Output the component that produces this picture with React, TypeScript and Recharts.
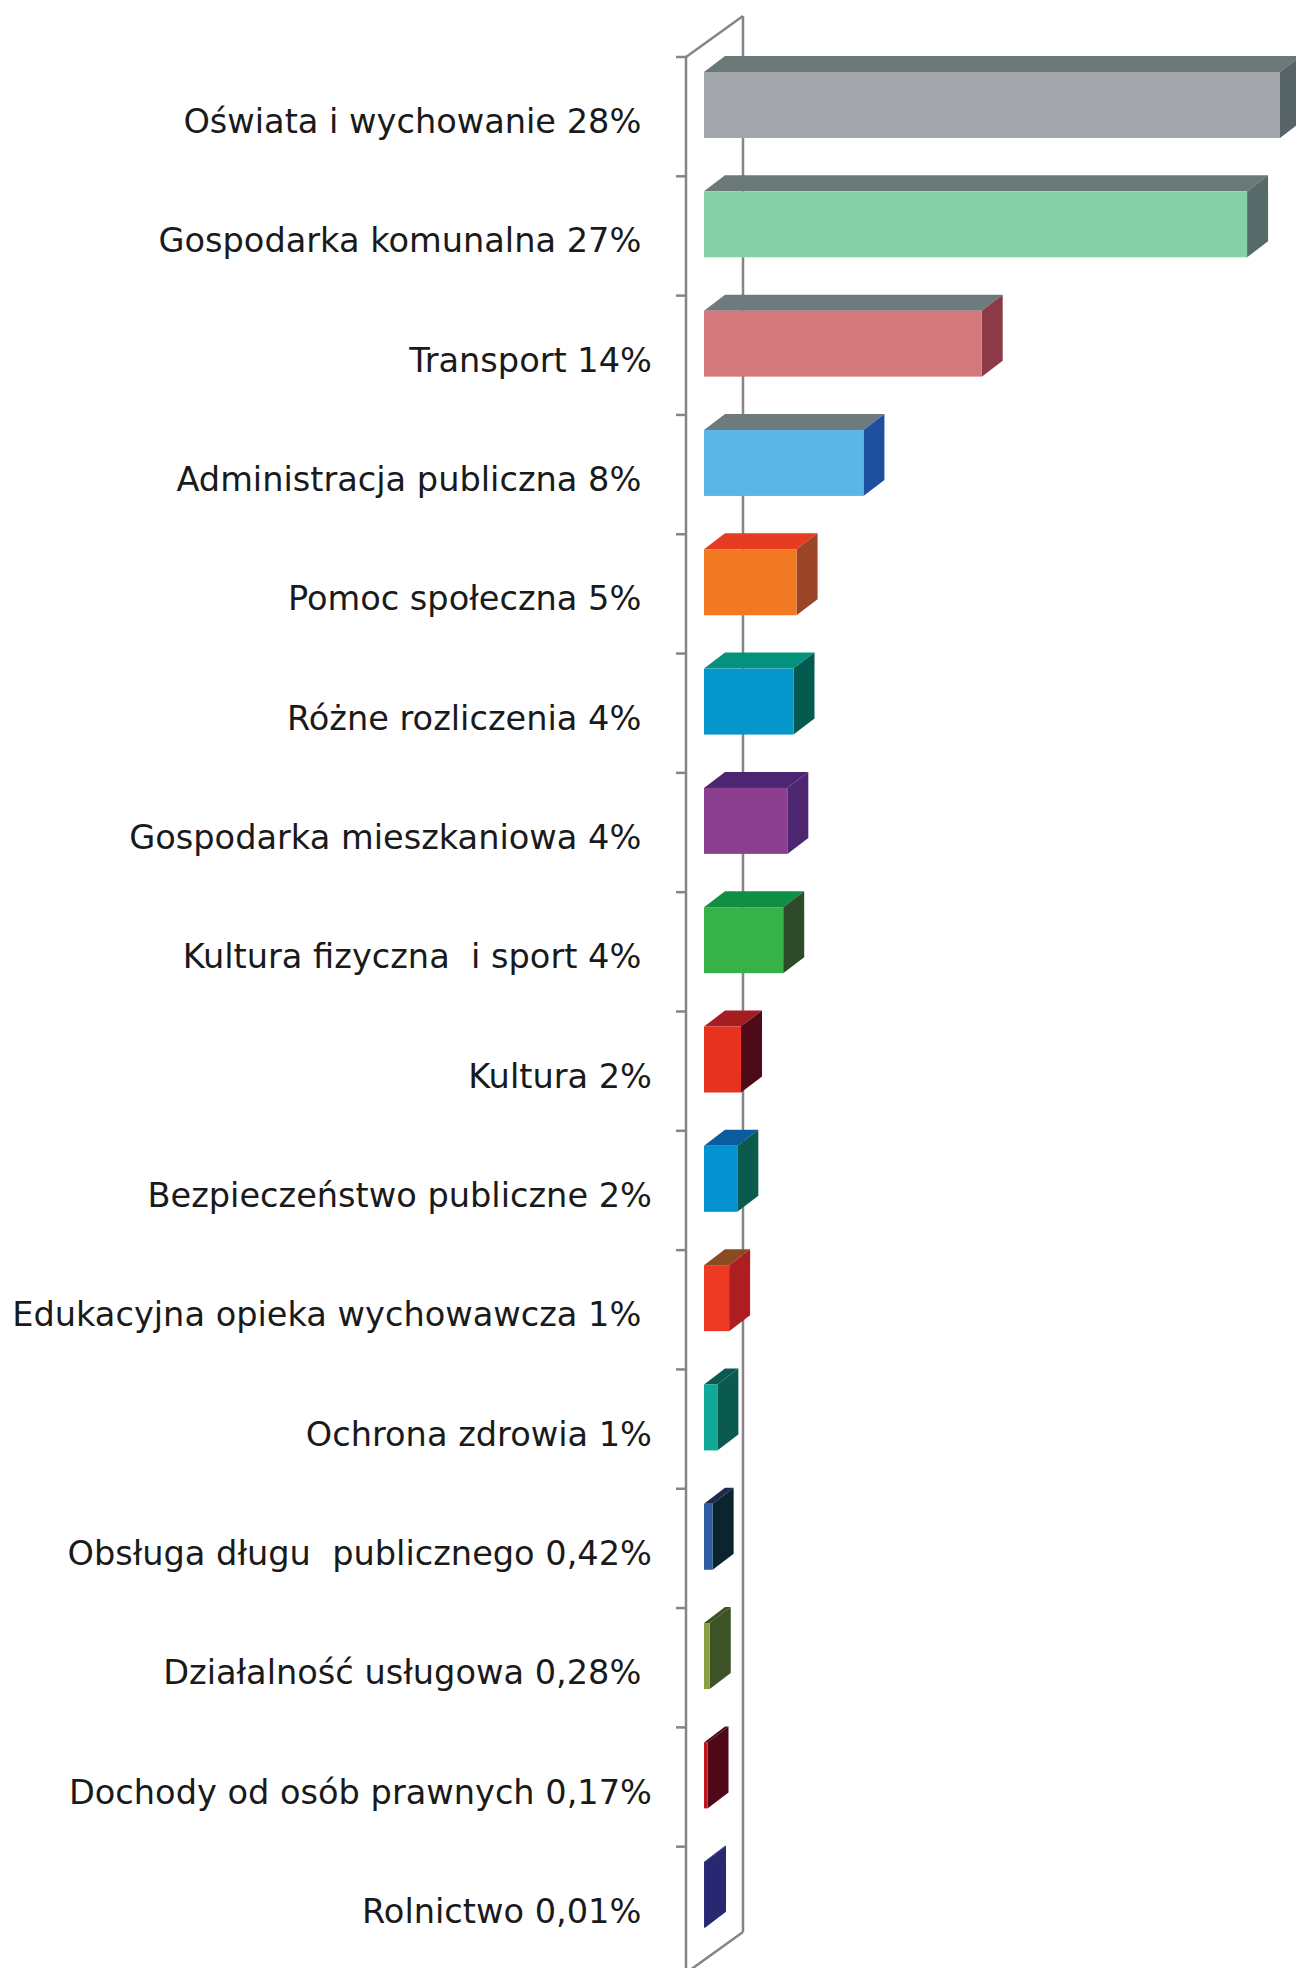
import React from 'react';
import { BarChart, Bar, XAxis, YAxis, Customized } from 'recharts';

// categories top -> bottom, labels as printed on the chart
const categories = [
  'Oświata i wychowanie 28%\u00a0',
  'Gospodarka komunalna 27%\u00a0',
  'Transport 14%',
  'Administracja publiczna 8%\u00a0',
  'Pomoc społeczna 5%\u00a0',
  'Różne rozliczenia 4%\u00a0',
  'Gospodarka mieszkaniowa 4%\u00a0',
  'Kultura fizyczna  i sport 4%\u00a0',
  'Kultura 2%',
  'Bezpieczeństwo publiczne 2%',
  'Edukacyjna opieka wychowawcza 1%\u00a0',
  'Ochrona zdrowia 1%',
  'Obsługa długu  publicznego 0,42%',
  'Działalność usługowa 0,28%\u00a0',
  'Dochody od osób prawnych 0,17%',
  'Rolnictwo 0,01%\u00a0',
];

// share of spending, %
const shares = [28.0, 26.4, 13.5, 7.75, 4.5, 4.35, 4.05, 3.85, 1.8, 1.62, 1.22, 0.65, 0.42, 0.28, 0.17, 0.05];

const frontColors = [
  '#a2a5a9', '#87cfa7', '#d4787c', '#5bb5e5', '#f27822', '#0597cb', '#8d3f8f', '#37b24a',
  '#e6321f', '#0592d0', '#ee3a22', '#12a898', '#2d5ca0', '#8aa040', '#c2141f', '#2e2e80',
];
const topColors = [
  '#6a7878', '#6a7878', '#6e7b7d', '#6e7b7e', '#e63c22', '#03937d', '#4d2672', '#0f8f44',
  '#a31d22', '#0b5c9e', '#8b4b22', '#0b5a50', '#1e2a4a', '#3c5322', '#4e0818', '#24246a',
];
const sideColors = [
  '#566468', '#566a6a', '#8c3a48', '#1f4f9f', '#9c4428', '#035a4e', '#4d2672', '#2e4a2a',
  '#4e0a18', '#0b5a4e', '#ad1e22', '#0b5a50', '#0b2430', '#3d5226', '#4e0818', '#282872',
];

const data = categories.map((name, i) => ({ name, value: shares[i] }));

const W = 1296;
const H = 1968;
const TOP = 57;
const BOTTOM = 2;
const AXIS_X = 686;
// 3D offsets
const WALL_DX = 57, WALL_DY = 41;
const BAR_OX = 18, BAR_OY = 12;
const DEPTH_X = 21, DEPTH_Y = 16;
const AXIS_COLOR = '#858585';

function Box(props: any) {
  const { x, y, width, height, index } = props;
  const fx = x + BAR_OX;
  const fy = y - BAR_OY;
  const w = Math.max(width, 0);
  return (
    <g>
      <polygon
        points={`${fx},${fy} ${fx + DEPTH_X},${fy - DEPTH_Y} ${fx + w + DEPTH_X},${fy - DEPTH_Y} ${fx + w},${fy}`}
        fill={topColors[index]}
      />
      <polygon
        points={`${fx + w},${fy} ${fx + w + DEPTH_X},${fy - DEPTH_Y} ${fx + w + DEPTH_X},${fy + height - DEPTH_Y} ${fx + w},${fy + height}`}
        fill={sideColors[index]}
      />
      <rect x={fx} y={fy} width={w} height={height} fill={frontColors[index]} />
    </g>
  );
}

function Wall() {
  const plotBottom = H - BOTTOM;
  const band = (plotBottom - TOP) / categories.length;
  const backX = AXIS_X + WALL_DX;
  const backBottom = plotBottom - 34;
  return (
    <g stroke={AXIS_COLOR} strokeWidth={2.5} fill="none">
      <line x1={AXIS_X} y1={TOP} x2={AXIS_X} y2={H} />
      <line x1={AXIS_X} y1={TOP} x2={backX} y2={TOP - WALL_DY} />
      <line x1={backX} y1={TOP - WALL_DY} x2={backX} y2={backBottom} />
      <line x1={AXIS_X} y1={backBottom + WALL_DY} x2={backX} y2={backBottom} />
      {categories.map((_, i) => (
        <line key={i} x1={AXIS_X - 10} y1={TOP + i * band} x2={AXIS_X} y2={TOP + i * band} />
      ))}
    </g>
  );
}

function Label(props: any) {
  const { x, y, payload } = props;
  return (
    <text
      x={x - 34}
      y={y + 5}
      textAnchor="end"
      dominantBaseline="central"
      fontFamily="'DejaVu Sans', Verdana, sans-serif"
      fontSize={33.6}
      fill="#1a1a1a"
      style={{ whiteSpace: 'pre' }}
    >
      {payload.value}
    </text>
  );
}

export default function App() {
  return (
    <div style={{ position: 'absolute', left: 0, top: 0, width: W, height: H, background: '#fff' }}>
      <BarChart
        width={W}
        height={H}
        data={data}
        layout="vertical"
        margin={{ top: TOP, right: 34, bottom: BOTTOM, left: 0 }}
        barSize={66}
      >
        <Customized component={<Wall />} />
        <XAxis type="number" domain={[0, 28]} hide />
        <YAxis
          type="category"
          dataKey="name"
          width={AXIS_X}
          axisLine={false}
          tickLine={false}
          tickSize={0}
          tickMargin={0}
          interval={0}
          tick={<Label />}
        />
        <Bar dataKey="value" shape={<Box />} isAnimationActive={false} />
      </BarChart>
    </div>
  );
}
